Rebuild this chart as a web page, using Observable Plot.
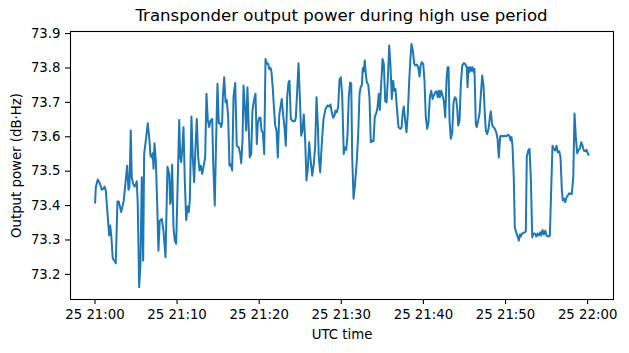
<!DOCTYPE html>
<html><head><meta charset="utf-8">
<script src="https://cdn.jsdelivr.net/npm/d3@7"></script>
<script src="https://cdn.jsdelivr.net/npm/@observablehq/plot@0.6"></script>
<style>
body{margin:0;background:#fff;font-family:"DejaVu Sans",sans-serif;}
#title{width:629px;height:24px;box-sizing:border-box;padding:8px 16px 0 70px;line-height:16px;font-size:16.6px;text-align:center;color:#000;white-space:nowrap;}
</style></head><body>
<div id="title"></div>
<div id="chart"></div>
<script>
const titleText = "Transponder output power during high use period";
const xLabel = "UTC time";
const yLabel = "Output power (dB·Hz)";
const xTickMinutes = [0, 10, 20, 30, 40, 50, 60];
const yTicks = [73.2, 73.3, 73.4, 73.5, 73.6, 73.7, 73.8, 73.9];

// minutes after 25 21:00 UTC
const minutes = [0.02,0.10,0.34,0.63,0.83,1.04,1.16,1.32,1.56,1.73,1.85,1.97,2.17,2.38,2.53,2.74,2.90,3.19,3.51,3.80,3.92,4.08,4.20,4.36,4.48,4.65,4.81,4.97,5.09,5.21,5.38,5.54,5.70,5.87,5.99,6.19,6.43,6.64,6.76,6.92,7.04,7.13,7.25,7.41,7.58,7.73,7.89,8.14,8.34,8.59,8.83,9.04,9.16,9.23,9.40,9.56,9.72,9.89,10.09,10.26,10.38,10.50,10.62,10.78,10.94,11.11,11.27,11.43,11.55,11.75,11.91,12.08,12.24,12.40,12.57,12.73,12.89,13.06,13.22,13.42,13.58,13.74,13.91,14.07,14.28,14.40,14.59,14.76,14.92,15.08,15.25,15.37,15.49,15.57,15.74,15.90,16.05,16.22,16.38,16.54,16.71,16.87,17.08,17.27,17.52,17.69,17.81,17.97,18.09,18.29,18.42,18.57,18.70,18.85,19.03,19.18,19.39,19.55,19.71,19.83,20.00,20.16,20.28,20.44,20.61,20.77,20.93,21.10,21.22,21.38,21.50,21.66,21.78,21.95,22.11,22.27,22.44,22.59,22.75,22.92,23.08,23.24,23.41,23.57,23.69,23.85,24.02,24.18,24.34,24.46,24.63,24.79,24.95,25.12,25.27,25.43,25.60,25.76,25.92,26.09,26.25,26.46,26.65,26.82,26.98,27.14,27.26,27.43,27.62,27.83,28.08,28.32,28.56,28.68,28.84,29.01,29.17,29.29,29.45,29.62,29.78,29.94,30.11,30.30,30.43,30.60,30.75,30.91,31.08,31.21,31.33,31.49,31.64,31.89,32.06,32.22,32.38,32.50,32.62,32.74,32.86,32.98,33.11,33.28,33.43,33.59,33.76,33.92,34.08,34.25,34.41,34.57,34.69,34.86,35.02,35.18,35.35,35.51,35.66,35.83,35.99,36.15,36.32,36.44,36.60,36.76,36.97,37.17,37.33,37.49,37.61,37.78,37.94,38.10,38.27,38.43,38.55,38.71,38.88,39.04,39.20,39.37,39.53,39.65,39.80,39.98,40.13,40.29,40.46,40.62,40.78,40.95,41.11,41.27,41.44,41.60,41.75,41.88,42.00,42.17,42.33,42.48,42.66,42.82,42.94,43.06,43.18,43.34,43.51,43.67,43.82,43.99,44.12,44.24,44.40,44.56,44.73,44.92,45.09,45.29,45.37,45.49,45.61,45.74,45.86,45.98,46.10,46.22,46.38,46.50,46.67,46.83,46.99,47.16,47.32,47.48,47.60,47.77,47.93,48.09,48.21,48.38,48.54,48.70,48.87,49.03,49.18,49.35,49.51,49.67,49.84,50.00,50.16,50.33,50.49,50.61,50.73,50.85,51.01,51.13,51.30,51.46,51.62,51.75,51.86,51.99,52.11,52.31,52.47,52.59,52.76,52.92,53.08,53.25,53.41,53.57,53.74,53.90,54.06,54.23,54.35,54.51,54.67,54.84,55.00,55.24,55.40,55.57,55.72,55.88,56.05,56.21,56.37,56.54,56.70,56.86,56.98,57.15,57.27,57.43,57.59,57.76,57.92,58.07,58.25,58.40,58.56,58.73,58.89,59.05,59.22,59.38,59.54,59.71,59.86,60.02,60.11];

// output power, dB·Hz
const values = [73.408,73.453,73.476,73.463,73.446,73.449,73.455,73.444,73.366,73.313,73.342,73.318,73.245,73.240,73.232,73.412,73.412,73.381,73.415,73.487,73.516,73.446,73.453,73.618,73.482,73.463,73.455,73.461,73.471,73.405,73.163,73.231,73.482,73.240,73.550,73.589,73.639,73.589,73.545,73.540,73.552,73.507,73.581,73.531,73.405,73.269,73.356,73.361,73.327,73.250,73.513,
73.492,73.405,73.410,73.519,73.337,73.298,73.289,73.482,73.649,73.540,73.526,73.560,73.628,73.473,73.358,73.397,73.381,73.415,73.659,73.540,73.468,73.569,73.652,73.540,73.502,73.516,73.492,73.513,73.540,73.725,73.649,73.628,73.647,73.652,73.521,73.400,73.599,73.754,73.639,73.639,73.628,73.642,73.715,73.773,73.700,73.707,73.659,73.516,73.521,73.502,73.715,73.756,73.574,73.569,
73.550,73.523,73.589,73.749,73.676,73.618,73.744,73.647,73.540,73.550,73.676,73.710,73.725,73.579,73.638,73.655,73.655,73.618,73.613,73.550,73.826,73.812,73.812,73.797,73.800,73.788,73.739,73.691,73.633,73.618,73.540,73.662,73.686,73.710,73.662,73.628,73.574,73.715,73.758,73.763,73.652,73.647,73.645,73.645,73.655,73.734,73.814,73.715,73.603,73.618,73.665,73.589,73.473,73.507,73.584,73.536,73.487,73.521,73.574,73.715,
73.638,73.540,73.497,73.579,73.652,73.681,73.691,73.688,73.694,73.671,73.655,73.662,73.676,73.671,73.686,73.765,73.773,73.720,73.550,73.569,73.562,73.603,73.715,73.758,73.754,73.540,73.420,73.453,73.531,73.608,73.725,73.746,73.749,73.800,73.790,73.822,73.783,73.758,73.752,73.715,73.584,73.589,73.587,73.659,73.668,73.686,73.725,73.678,73.754,73.826,73.812,73.703,73.700,73.763,73.865,73.807,73.710,73.763,73.734,73.739,73.686,73.628,73.623,73.626,73.671,73.688,73.647,73.613,73.667,73.763,73.831,73.870,73.851,73.812,73.807,73.810,73.802,73.775,73.807,73.817,73.812,73.763,73.657,73.623,73.642,73.715,73.734,73.710,73.720,73.729,73.732,73.715,73.734,73.715,73.734,73.720,73.705,73.657,73.768,73.802,73.802,73.647,73.594,73.613,73.700,73.715,73.710,73.681,73.633,73.647,73.754,73.807,73.814,73.812,73.800,73.744,73.802,73.788,73.802,73.792,73.802,73.788,73.797,73.638,73.628,73.647,73.667,73.720,73.778,73.749,73.667,73.618,73.608,73.623,73.657,73.674,73.633,73.628,73.623,73.613,73.594,73.540,73.601,73.603,73.601,73.603,73.601,73.603,73.606,73.601,73.589,73.599,73.574,73.478,73.337,73.322,73.310,73.298,73.316,73.310,73.319,73.319,73.322,73.324,73.542,73.560,73.565,73.482,73.308,73.319,73.319,73.310,73.319,73.313,73.322,73.313,73.329,73.316,73.327,73.313,73.310,73.313,73.453,73.574,73.565,73.560,73.574,73.555,73.558,73.540,73.444,73.415,73.420,73.410,73.424,73.429,73.436,73.434,73.434,73.482,73.668,73.599,73.552,73.562,73.565,73.584,73.574,73.560,73.558,73.562,73.552,73.548];

if (minutes.length !== values.length) throw new Error("length mismatch " + minutes.length + " vs " + values.length);

document.getElementById("title").textContent = titleText;

const base = Date.UTC(2024, 0, 25, 21, 0, 0);
const toDate = m => new Date(base + m * 60000);
const data = minutes.map((m, i) => ({t: toDate(m), v: values[i]}));

const chart = Plot.plot({
  width: 629,
  height: 329,
  marginTop: 7,
  marginRight: 16,
  marginBottom: 54,
  marginLeft: 70,
  style: {fontFamily: "DejaVu Sans", fontSize: "13.3px", color: "#000", background: "#fff", overflow: "visible"},
  x: {type: "utc", domain: [toDate(-2.98), toDate(63.15)]},
  y: {domain: [73.127, 73.906]},
  marks: [
    Plot.axisX({ticks: xTickMinutes.map(toDate), tickFormat: d3.utcFormat("%d %H:%M"), tickSize: 5, tickPadding: 5, label: null, strokeWidth: 1.1, fontSize: 13.3}),
    Plot.axisY({ticks: yTicks, tickFormat: d3.format(".1f"), tickSize: 5, tickPadding: 5, label: null, strokeWidth: 1.1, fontSize: 13.3}),
    Plot.line(data, {x: "t", y: "v", stroke: "#1f77b4", strokeWidth: 2, strokeLinejoin: "round"}),
    Plot.frame({stroke: "#000", strokeWidth: 1.1}),
    Plot.text([xLabel], {frameAnchor: "bottom", dy: 35, text: d => d, fontSize: 13.3, lineAnchor: "middle", textAnchor: "middle"}),
    Plot.text([yLabel], {frameAnchor: "left", dx: -54, rotate: -90, text: d => d, fontSize: 13.3, lineAnchor: "middle", textAnchor: "middle"})
  ]
});
document.getElementById("chart").appendChild(chart);
</script>
</body></html>
